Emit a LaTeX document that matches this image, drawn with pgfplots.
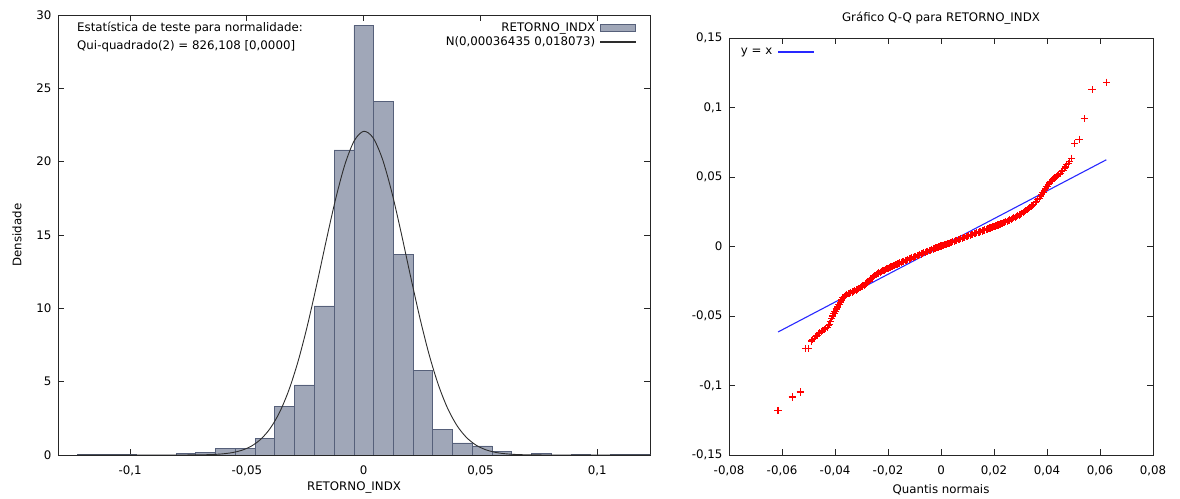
\documentclass[border=0pt]{standalone}
\usepackage{pgfplots}
\pgfplotsset{compat=1.18}
\usepackage{fontspec}
\setmainfont{DejaVu Sans}
\definecolor{barfill}{RGB}{160,167,184}
\definecolor{bardraw}{RGB}{86,96,122}
\definecolor{curvecol}{RGB}{45,45,45}
\definecolor{qqred}{RGB}{255,0,0}
\definecolor{qqblue}{RGB}{40,40,255}
\pgfplotsset{
  blacklegend/.style={legend image code/.code={\fill[curvecol] (0bp,-0.5bp) rectangle (35bp,0.5bp);}},
  bluelegend/.style={legend image code/.code={\fill[qqblue] (0bp,-0.6bp) rectangle (35bp,0.6bp);}},
  myaxis/.style={scale only axis, anchor=south west,
    axis line style={line width=0.9bp, black!85},
    tick style={line width=0.9bp, black!85},
    major tick length=6bp, tick align=inside,
    scaled x ticks=false, scaled y ticks=false,
    xticklabel style={yshift=-7bp},
    yticklabel style={xshift=-2.5bp},
    legend plot pos=right},
}
\begin{document}
\fontsize{11.8bp}{14bp}\selectfont
\begin{tikzpicture}
\useasboundingbox (0,0) rectangle (1180bp,499bp);
% ---------------- Histogram ----------------
\begin{axis}[myaxis, at={(58bp,44bp)}, width=592bp, height=440bp,
  xmin=-0.1309, xmax=0.1226, ymin=0, ymax=30,
  xtick={-0.1,-0.05,0,0.05,0.1},
  xticklabels={{-0,1},{-0,05},{0},{0,05},{0,1}},
  ytick={0,5,10,15,20,25,30},
  yticklabels={0,5,10,15,20,25,30},
  xlabel={RETORNO\_INDX}, ylabel={Densidade},
  xlabel style={at={(axis description cs:0.5,-0.075)}, anchor=center},
  ylabel style={at={(axis description cs:-0.0693,0.5)}, anchor=center},
  legend cell align=right,
  legend style={at={(axis description cs:0.976,0.986)}, anchor=north east,
    draw=none, fill=none, inner sep=0pt, row sep=0bp, column sep=3bp,
    nodes={inner sep=1.5bp}},
]
\addplot[ybar interval, fill=barfill, draw=bardraw, line width=0.7bp,
  legend image code/.code={\draw[fill=barfill, draw=bardraw, line width=0.7bp] (0bp,-3.5bp) rectangle (35bp,3.5bp);}]
coordinates {
(-0.1226,0.066) (-0.1141,0.066) (-0.1057,0.066) (-0.0972,0) (-0.0888,0)
(-0.0803,0.13) (-0.0719,0.20) (-0.0634,0.45) (-0.0550,0.45) (-0.0465,1.13)
(-0.0381,3.30) (-0.0296,4.78) (-0.0212,10.16) (-0.0127,20.80) (-0.0042,29.30)
(0.0042,24.10) (0.0127,13.68) (0.0212,5.78) (0.0296,1.76) (0.0381,0.82)
(0.0465,0.62) (0.0550,0.25) (0.0634,0) (0.0719,0.13) (0.0803,0)
(0.0888,0.066) (0.0972,0) (0.1057,0.066) (0.1141,0.066) (0.1226,0)
};
\addlegendentry{RETORNO\_INDX}
\addplot[curvecol, line width=0.9bp, smooth, blacklegend]
coordinates {
(-0.1226,0) (-0.088,0.0001) (-0.084,0.0004) (-0.080,0.0011) (-0.076,0.0029)
(-0.072,0.0073) (-0.068,0.0173) (-0.064,0.0389) (-0.060,0.0835) (-0.056,0.1705)
(-0.052,0.3317) (-0.048,0.615) (-0.044,1.085) (-0.040,1.823) (-0.036,2.916)
(-0.032,4.441) (-0.028,6.441) (-0.024,8.897) (-0.020,11.700) (-0.016,14.651)
(-0.012,17.466) (-0.008,19.832) (-0.004,21.439) (0,22.070) (0.004,21.632)
(0.008,20.189) (0.012,17.942) (0.016,15.184) (0.020,12.234) (0.024,9.386)
(0.028,6.857) (0.032,4.771) (0.036,3.160) (0.040,1.993) (0.044,1.197)
(0.048,0.684) (0.052,0.3726) (0.056,0.1933) (0.060,0.0954) (0.064,0.0448)
(0.068,0.0201) (0.072,0.0086) (0.076,0.0035) (0.080,0.0013) (0.084,0.0005)
(0.088,0.0002) (0.1226,0)
};
\addlegendentry{N(0,00036435 0,018073)}
\node[anchor=north west, align=left, inner sep=0pt,
  font=\fontsize{11.8bp}{18bp}\selectfont]
  at (axis description cs:0.0321,0.984)
  {Estatística de teste para normalidade:\\Qui-quadrado(2) = 826,108 [0,0000]};
\end{axis}
% ---------------- Q-Q plot ----------------
\begin{axis}[myaxis, at={(729bp,44bp)}, width=424bp, height=417bp,
  xmin=-0.08, xmax=0.08, ymin=-0.15, ymax=0.15,
  xtick={-0.08,-0.06,-0.04,-0.02,0,0.02,0.04,0.06,0.08},
  xticklabels={{-0,08},{-0,06},{-0,04},{-0,02},{0},{0,02},{0,04},{0,06},{0,08}},
  ytick={-0.15,-0.1,-0.05,0,0.05,0.1,0.15},
  yticklabels={{-0,15},{-0,1},{-0,05},{0},{0,05},{0,1},{0,15}},
  xlabel={Quantis normais},
  xlabel style={at={(axis description cs:0.5,-0.0839)}, anchor=center},
  title={Gráfico Q-Q para RETORNO\_INDX},
  title style={at={(axis description cs:0.5,1.034)}, anchor=center},
  legend cell align=left,
  legend style={at={(axis description cs:0.024,0.981)}, anchor=north west,
    draw=none, fill=none, inner sep=0pt, column sep=4bp, nodes={inner sep=1.5bp}},
]
\addplot[only marks, mark=+, mark size=3.6bp, qqred,
  mark options={line width=1.1bp}, forget plot]
coordinates {
(-0.0615,-0.1179) (-0.0561,-0.1083) (-0.0531,-0.1047) (-0.0511,-0.0735) (-0.0499,-0.0735)
(-0.0488,-0.0680) (-0.0485,-0.0670) (-0.0478,-0.0660) (-0.0472,-0.0648) (-0.0468,-0.0640)
(-0.0462,-0.0628) (-0.0457,-0.0620) (-0.0451,-0.0611) (-0.0446,-0.0605) (-0.0441,-0.0600)
(-0.0435,-0.0591) (-0.0430,-0.0580) (-0.0425,-0.0570) (-0.0420,-0.0558) (-0.0416,-0.0538)
(-0.0412,-0.0518) (-0.0408,-0.0500) (-0.0404,-0.0485) (-0.0400,-0.0470) (-0.0395,-0.0450)
(-0.0390,-0.0435) (-0.0385,-0.0418) (-0.0380,-0.0400) (-0.0375,-0.0385) (-0.0370,-0.0370)
(-0.0365,-0.0360) (-0.036,-0.0350) (-0.0355,-0.0345) (-0.035,-0.0340) (-0.0345,-0.0336)
(-0.034,-0.0332) (-0.0335,-0.0328) (-0.033,-0.0323) (-0.0325,-0.0318) (-0.032,-0.0313)
(-0.0315,-0.0308) (-0.031,-0.0302) (-0.0305,-0.0296) (-0.030,-0.0290) (-0.0295,-0.0284)
(-0.029,-0.0278) (-0.0285,-0.0270) (-0.028,-0.0262) (-0.0275,-0.0252) (-0.027,-0.0243)
(-0.0265,-0.0234) (-0.026,-0.0226) (-0.0255,-0.0218) (-0.025,-0.0210) (-0.0245,-0.0203)
(-0.024,-0.0197) (-0.0235,-0.0191) (-0.023,-0.0185) (-0.0225,-0.0180) (-0.022,-0.0175)
(-0.0215,-0.0170) (-0.021,-0.0165) (-0.0205,-0.0160) (-0.020,-0.0156) (-0.0195,-0.0151)
(-0.019,-0.0147) (-0.0185,-0.0142) (-0.018,-0.0138) (-0.0175,-0.0134) (-0.017,-0.0130)
(-0.0165,-0.0126) (-0.016,-0.0122) (-0.0155,-0.0118) (-0.015,-0.0114) (-0.0145,-0.0110)
(-0.014,-0.0106) (-0.0135,-0.0102) (-0.013,-0.0098) (-0.0125,-0.0094) (-0.012,-0.0090)
(-0.0115,-0.0086) (-0.011,-0.0082) (-0.0105,-0.0078) (-0.010,-0.0074) (-0.0095,-0.0070)
(-0.009,-0.0066) (-0.0085,-0.0062) (-0.008,-0.0058) (-0.0075,-0.0054) (-0.007,-0.0050)
(-0.0065,-0.0046) (-0.006,-0.0042) (-0.0055,-0.0038) (-0.005,-0.0034) (-0.0045,-0.0030)
(-0.004,-0.0026) (-0.0035,-0.0022) (-0.003,-0.0018) (-0.0025,-0.0014) (-0.002,-0.0011)
(-0.0015,-0.0007) (-0.001,-0.0004) (-0.0005,0.0000) (0.000,0.0003) (0.0005,0.0007)
(0.001,0.0010) (0.0015,0.0014) (0.002,0.0017) (0.0025,0.0021) (0.003,0.0024)
(0.0035,0.0028) (0.004,0.0031) (0.0045,0.0035) (0.005,0.0038) (0.0055,0.0042)
(0.006,0.0045) (0.0065,0.0049) (0.007,0.0052) (0.0075,0.0056) (0.008,0.0059)
(0.0085,0.0063) (0.009,0.0066) (0.0095,0.0070) (0.010,0.0073) (0.0105,0.0077)
(0.011,0.0080) (0.0115,0.0084) (0.012,0.0087) (0.0125,0.0091) (0.013,0.0094)
(0.0135,0.0098) (0.014,0.0101) (0.0145,0.0105) (0.015,0.0108) (0.0155,0.0112)
(0.016,0.0115) (0.0165,0.0119) (0.017,0.0122) (0.0175,0.0126) (0.018,0.0129)
(0.0185,0.0133) (0.019,0.0136) (0.0195,0.0140) (0.020,0.0143) (0.0205,0.0147)
(0.021,0.0150) (0.0215,0.0154) (0.022,0.0158) (0.0225,0.0162) (0.023,0.0166)
(0.0235,0.0170) (0.024,0.0174) (0.0245,0.0178) (0.025,0.0182) (0.0255,0.0186)
(0.026,0.0191) (0.0265,0.0196) (0.027,0.0201) (0.0275,0.0206) (0.028,0.0211)
(0.0285,0.0216) (0.029,0.0222) (0.0295,0.0227) (0.030,0.0233) (0.0305,0.0239)
(0.031,0.0245) (0.0315,0.0251) (0.032,0.0258) (0.0325,0.0265) (0.033,0.0272)
(0.0335,0.0280) (0.034,0.0288) (0.0345,0.0296) (0.035,0.0305) (0.0355,0.0315)
(0.036,0.0325) (0.0365,0.0336)
(0.037,0.0348) (0.0375,0.0360) (0.038,0.0372) (0.0385,0.0386) (0.039,0.0400)
(0.0395,0.0416) (0.040,0.0432) (0.0405,0.0446) (0.041,0.0458) (0.0415,0.0468)
(0.042,0.0478) (0.0425,0.0487) (0.043,0.0495) (0.0435,0.0503) (0.044,0.0510)
(0.0445,0.0519) (0.045,0.0528) (0.0455,0.0538) (0.046,0.0548) (0.0465,0.0560)
(0.047,0.0572) (0.0474,0.0588) (0.0480,0.0598) (0.0485,0.0612) (0.0492,0.0635)
(0.0505,0.0742) (0.0521,0.0771) (0.0540,0.0918) (0.0570,0.1127) (0.0624,0.1182)
};
\addplot[qqblue, line width=1.1bp, bluelegend]
coordinates {(-0.0615,-0.0615) (0.0624,0.0624)};
\addlegendentry{y = x}
\end{axis}
\end{tikzpicture}
\end{document}
